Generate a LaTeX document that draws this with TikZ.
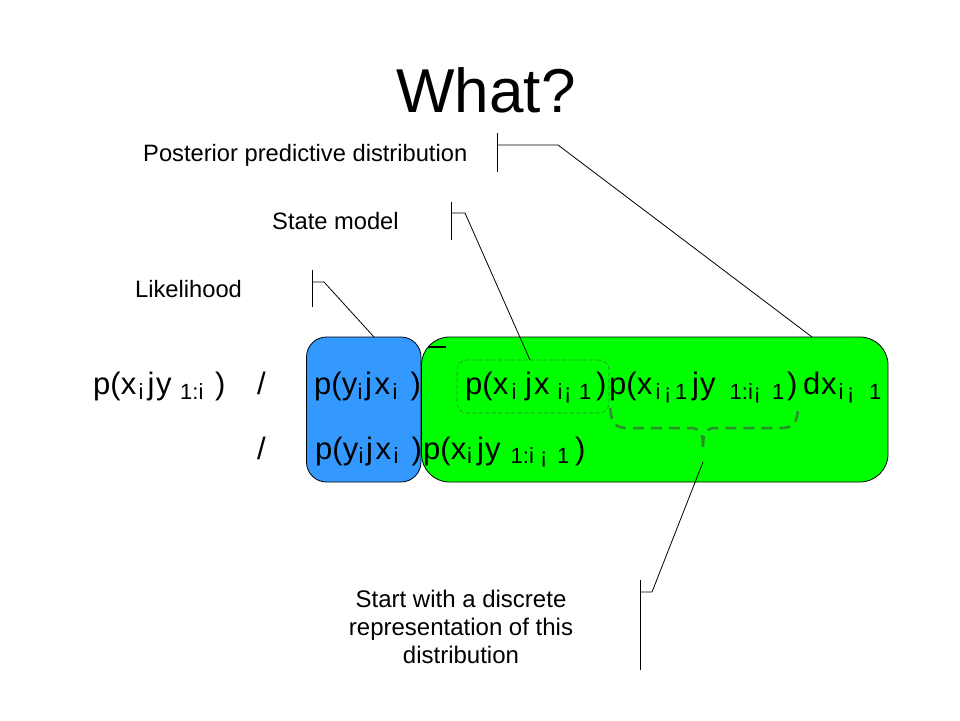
\documentclass[tikz,border=0pt]{standalone}
\usepackage{fontspec}
\setmainfont{Liberation Sans}
\definecolor{boxblue}{RGB}{51,153,255}
\definecolor{boxgreen}{RGB}{0,255,0}
\definecolor{dkgreen}{RGB}{45,140,45}
\tikzset{
  mf/.style={anchor=base west, inner sep=0pt, font=\fontsize{31}{36}\selectfont},
  sf/.style={anchor=base west, inner sep=0pt, font=\fontsize{22}{26}\selectfont},
  lab/.style={anchor=base west, inner sep=0pt, font=\fontsize{23.7}{28}\selectfont},
  note/.style={anchor=base, inner sep=0pt, font=\fontsize{24}{28}\selectfont},
  callout/.style={draw=black, line width=0.8pt},
  termbox/.style={draw=black, line width=0.8pt, inner sep=0pt},
}
\newcommand\M[4]{\node[mf] (#1) at (#2,#3) {#4};}
\newcommand\Sb[4]{\node[sf] (#1) at (#2,#3) {#4};}
\begin{document}
\begin{tikzpicture}[x=1pt,y=-1pt]
\useasboundingbox (0,0) rectangle (960,720);
\fill[white] (0,0) rectangle (960,720);

% title
\node[anchor=base, inner sep=0pt, font=\fontsize{62}{70}\selectfont] (title) at (486,112) {What?};

% boxes
\node[termbox, fill=boxblue, rounded corners=20pt, minimum width=114.5pt, minimum height=145pt] (blue) at (363.75,409.5) {};
\node[termbox, fill=boxgreen, rounded corners=28pt, minimum width=466.5pt, minimum height=145pt] (green) at (654.75,409.5) {};
\node[draw=dkgreen, line width=0.6pt, dash pattern=on 4pt off 2.5pt, rounded corners=10pt, minimum width=152pt, minimum height=53pt, inner sep=0pt] (statebox) at (533,386.5) {};
\draw[line width=2.5pt] (428,347) -- (446,347);

% brace
\coordinate (brL) at (610,408);
\coordinate (brM) at (703,447);
\coordinate (brR) at (798,405);
\draw[dkgreen, line width=2.5pt, dash pattern=on 11pt off 7pt]
  (brL) .. controls (612,426) and (616,428) .. (630,428) -- (690,428)
  .. controls (700,428) and (703,433) .. (brM);
\draw[dkgreen, line width=2.5pt, dash pattern=on 11pt off 7pt]
  (brM) .. controls (703,433) and (706,428) .. (716,428) -- (782,428)
  .. controls (795,428) and (798,420) .. (brR);

% labels
\node[lab] (post) at (143,161) {Posterior predictive distribution};
\node[lab] (state) at (272,229) {State model};
\node[lab] (lik) at (135,297) {Likelihood};
\node[note] (n1) at (461,607) {Start with a discrete};
\node[note] (n2) at (461,635) {representation of this};
\node[note] (n3) at (461,663) {distribution};

% callouts
\coordinate (pA) at (497,133); \coordinate (pB) at (497,172);
\coordinate (pC) at (497,145); \coordinate (pD) at (558,145); \coordinate (pE) at (812,337);
\draw[callout] (pA) -- (pB);
\draw[callout] (pC) -- (pD) -- (pE);
\coordinate (sA) at (451,202); \coordinate (sB) at (451,240);
\coordinate (sC) at (451,213); \coordinate (sD) at (465,213); \coordinate (sE) at (530,360);
\draw[callout] (sA) -- (sB);
\draw[callout] (sC) -- (sD) -- (sE);
\coordinate (lA) at (312,270); \coordinate (lB) at (312,307);
\coordinate (lC) at (312,282); \coordinate (lD) at (324,282); \coordinate (lE) at (374,337);
\draw[callout] (lA) -- (lB);
\draw[callout] (lC) -- (lD) -- (lE);
\coordinate (bA) at (640,580); \coordinate (bB) at (640,670);
\coordinate (bC) at (640,592); \coordinate (bD) at (652,592); \coordinate (bE) at (703,462);
\draw[callout] (bA) -- (bB);
\draw[callout] (bC) -- (bD) -- (bE);

% formula row 1
\M{a1}{93}{394}{p(x}
\Sb{a2}{138.5}{399}{i}
\M{a3}{147.5}{394}{j}
\M{a4}{156}{394}{y}
\Sb{a5}{180}{399}{1:i}
\M{a6}{215}{394}{)}
\M{a7}{257}{394}{/}
\M{c1}{314}{394}{p(y}
\Sb{c2}{357.5}{399}{i}
\M{c3}{365}{394}{j}
\M{c4}{374.5}{394}{x}
\Sb{c5}{392.5}{399}{i}
\M{c6}{410.5}{394}{)}
\M{d1}{465}{394}{p(x}
\Sb{d2}{511.5}{399}{i}
\M{d3}{525}{394}{j}
\M{d4}{534}{394}{x}
\Sb{d5}{557.5}{399}{i}
\Sb{d6}{564}{399}{¡}
\Sb{d7}{579}{399}{1}
\M{d8}{596}{394}{)}
\M{e1}{609}{394}{p(x}
\Sb{e2}{655.5}{399}{i}
\Sb{e3}{664}{399}{¡}
\Sb{e4}{675}{399}{1}
\M{e5}{692}{394}{j}
\M{e6}{700}{394}{y}
\Sb{e7}{729.5}{399}{1:i}
\Sb{e8}{753.5}{399}{¡}
\Sb{e9}{772}{399}{1}
\M{e10}{787}{394}{)}
\M{e11}{803}{394}{d}
\M{e12}{821}{394}{x}
\Sb{e13}{838.5}{399}{i}
\Sb{e14}{847}{399}{¡}
\Sb{e15}{869}{399}{1}

% formula row 2
\M{b7}{257}{459}{/}
\M{g1}{315}{459}{p(y}
\Sb{g2}{358.5}{463}{i}
\M{g3}{366}{459}{j}
\M{g4}{375.5}{459}{x}
\Sb{g5}{393.5}{463}{i}
\M{g6}{411.5}{459}{)}
\M{f1}{423}{459}{p(x}
\Sb{f2}{467}{463}{i}
\M{f3}{477}{459}{j}
\M{f4}{485}{459}{y}
\Sb{f5}{510.5}{463}{1:i}
\Sb{f6}{540}{463}{¡}
\Sb{f7}{557}{463}{1}
\M{f8}{575}{459}{)}
\end{tikzpicture}
\end{document}
